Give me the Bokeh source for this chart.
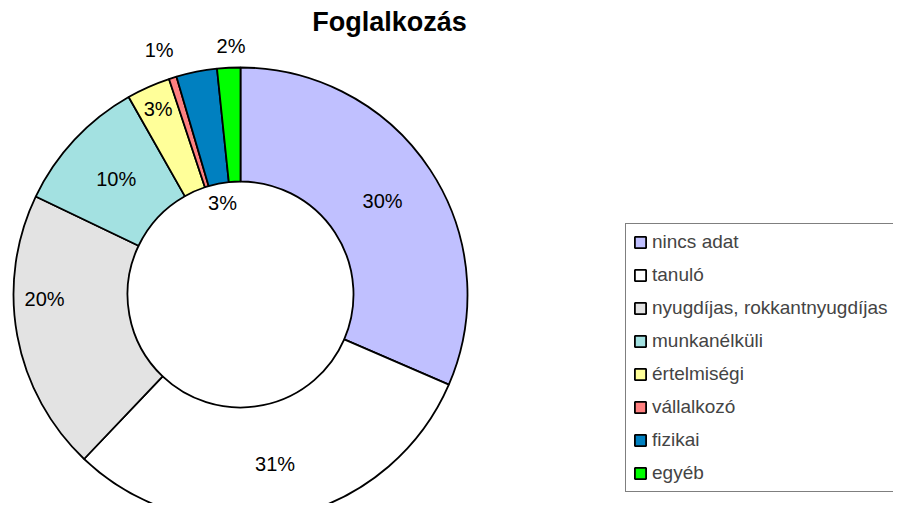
import math
from bokeh.plotting import figure
from bokeh.models import ColumnDataSource, Range1d, Legend, LegendItem, Label
from bokeh.core.properties import value
from bokeh.embed import file_html
from bokeh.resources import INLINE

# ---- data ----
categories = ["nincs adat", "tanuló", "nyugdíjas, rokkantnyugdíjas", "munkanélküli",
              "értelmiségi", "vállalkozó", "fizikai", "egyéb"]
shares = [31.5, 30.6, 20.0, 9.7, 3.1, 0.55, 2.9, 1.65]
labels = ["30%", "31%", "20%", "10%", "3%", "1%", "3%", "2%"]
colors = ["#C0C0FF", "#FFFFFF", "#E3E3E3", "#A3E1E1", "#FFFF99", "#FF8080", "#0080C0", "#00FF00"]

# ---- layout / style ----
W, H = 893, 503
CX, CY = 240, H - 294
R_OUT, R_IN = 227, 113
label_radius = [170, 173, 196, 170, 203, 258, 93, 249]
label_angle_shift = [0, 0, 9, 0, 0, -1, 0, 0.8]
FONT = "Liberation Sans"

total = sum(shares)
starts, ends, mids = [], [], []
cum = 0.0
for s in shares:
    a0 = cum / total * 2 * math.pi
    cum += s
    a1 = cum / total * 2 * math.pi
    starts.append(math.pi / 2 - a0)
    ends.append(math.pi / 2 - a1)
    mids.append((a0 + a1) / 2)

lx, ly = [], []
for m, r, sh in zip(mids, label_radius, label_angle_shift):
    a = m + math.radians(sh)
    lx.append(CX + r * math.sin(a))
    ly.append(CY + r * math.cos(a))

p = figure(width=W, height=H, output_backend="svg", toolbar_location=None,
           x_range=Range1d(0, W), y_range=Range1d(0, H), min_border=0)
p.axis.visible = False
p.grid.visible = False
p.outline_line_color = None
p.background_fill_color = "white"
p.border_fill_color = "white"

renderers = []
for i, c in enumerate(categories):
    src = ColumnDataSource(dict(x=[CX], y=[CY], s=[starts[i]], e=[ends[i]]))
    r = p.annular_wedge(x="x", y="y", inner_radius=R_IN, outer_radius=R_OUT,
                        start_angle="s", end_angle="e", direction="clock",
                        fill_color=colors[i], line_color="black", line_width=1.8,
                        source=src)
    renderers.append(r)

lsrc = ColumnDataSource(dict(x=lx, y=ly, t=labels))
p.text(x="x", y="y", text="t", source=lsrc, text_align="center",
       text_baseline="middle", text_font=value(FONT), text_font_size="20px",
       text_color="black")

p.add_layout(Label(x=389, y=H - 21, text="Foglalkozás", text_align="center",
                   text_baseline="middle", text_font=FONT, text_font_size="27px",
                   text_font_style="bold", text_color="black"))

legend = Legend(items=[LegendItem(label=c, renderers=[r]) for c, r in zip(categories, renderers)],
                location=(625, H - 492), orientation="vertical",
                label_text_font=FONT, label_text_font_size="19px",
                glyph_width=14, glyph_height=14, spacing=11, padding=7, margin=0,
                label_standoff=5, border_line_color="black", border_line_width=1,
                background_fill_color="white", background_fill_alpha=1.0)
p.add_layout(legend)

open("out.html", "w").write(file_html(p, INLINE))
